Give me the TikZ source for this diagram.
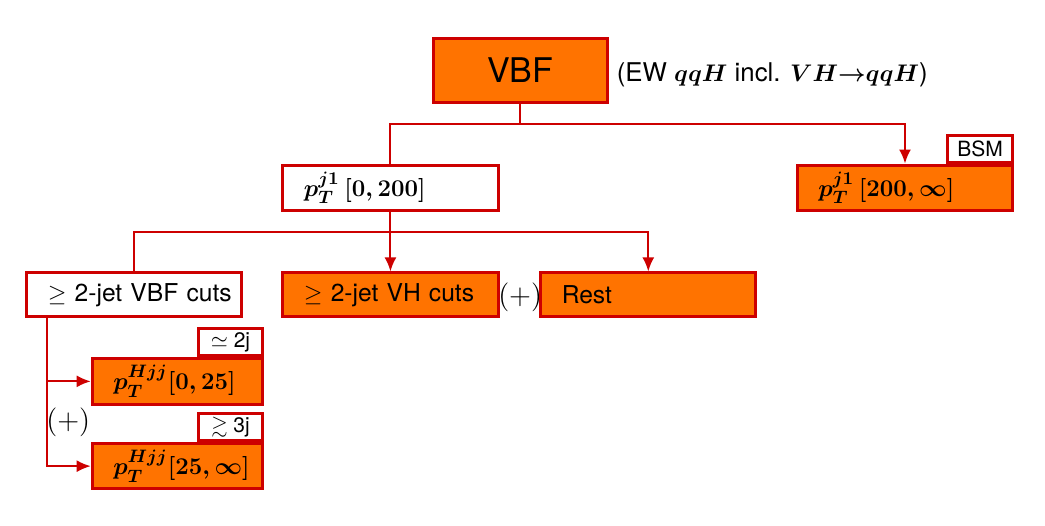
\documentclass[tikz,border=0pt]{standalone}
\usepackage{amsmath}
\usepackage{amssymb}
\usepackage[no-math]{fontspec}
\setmainfont{TeX Gyre Heros}
\usetikzlibrary{arrows.meta, positioning}
\definecolor{boxred}{RGB}{205,0,0}
\definecolor{boxorange}{RGB}{255,115,0}

\begin{document}
\begin{tikzpicture}[
    box/.style={draw=boxred, line width=1.5pt, fill=boxorange, minimum height=0.77cm,
        inner xsep=0.1cm, text width=3.58cm, align=left, font=\fontsize{12.3}{14}\selectfont,
        execute at begin node=\hspace*{0.27cm}},
    openbox/.style={box, fill=white},
    smallbox/.style={box, text width=2.8cm},
    headbox/.style={draw=boxred, line width=1.5pt, fill=boxorange, minimum width=3.06cm,
        minimum height=1.11cm, font=\fontsize{17}{19}\selectfont},
    tag/.style={draw=boxred, line width=1.5pt, fill=white, minimum width=1.14cm,
        minimum height=0.47cm, inner sep=1pt, anchor=south east, font=\fontsize{10.5}{12}\selectfont},
    link/.style={draw=boxred, line width=1pt},
    >={Latex[length=7pt, width=6pt]}
]
    \useasboundingbox (0,0) rectangle (18.36,-9.24);

    \node[headbox](vbf)                 at (9.14,-1.24) {VBF};
    \node[anchor=west, inner xsep=0pt, font=\fontsize{12.9}{15}\selectfont](note)
                                        at (10.83,-1.32)
        {(EW $\boldsymbol{qqH}$ incl. $\boldsymbol{VH{\rightarrow}qqH}$)};
    \node[openbox](pt_low)              at (6.86,-3.30) {$\boldsymbol{p_T^{j1}\,[0,200]}$};
    \node[box](pt_high)                 at (15.90,-3.30) {$\boldsymbol{p_T^{j1}\,[200,\infty]}$};
    \node[tag](bsm)                     at (pt_high.north east) {BSM};
    \node[openbox](vbf_cuts)            at (2.36,-5.18) {$\geq$ 2-jet VBF cuts};
    \node[box](vh_cuts)                 at (6.86,-5.18) {$\geq$ 2-jet VH cuts};
    \node[font=\fontsize{14}{16}\selectfont](plus_mid)
                                        at (9.14,-5.22) {$(+)$};
    \node[box](rest)                    at (11.39,-5.18) {Rest};
    \node[smallbox](hjj_low)            at (3.12,-6.70) {$\boldsymbol{p_T^{Hjj}[0,25]}$};
    \node[tag](two_j)                   at (hjj_low.north east) {$\simeq$ 2j};
    \node[smallbox](hjj_high)           at (3.12,-8.19) {$\boldsymbol{p_T^{Hjj}[25,\infty]}$};
    \node[tag](three_j)                 at (hjj_high.north east) {$\gtrsim$ 3j};
    \node[font=\fontsize{14}{16}\selectfont](plus_left)
                                        at (1.20,-7.42) {$(+)$};

    \coordinate (split_top)             at (9.14,-2.18);
    \coordinate (split_mid)             at (6.86,-4.08);
    \coordinate (trunk)                 at ([xshift=0.39cm]vbf_cuts.south west);

    % first split below VBF
    \draw[link] (vbf.south) -- (split_top);
    \draw[link] (split_top) -| (pt_low.north);
    \draw[link, ->] (split_top) -| (pt_high.north);
    % second split below pT [0,200]
    \draw[link, ->] (pt_low.south) -- (vh_cuts.north);
    \draw[link] (split_mid) -| (vbf_cuts.north);
    \draw[link, ->] (split_mid) -| (rest.north);
    % VBF cuts into pT^Hjj bins
    \draw[link, ->] (trunk) |- (hjj_low.west);
    \draw[link, ->] (trunk) |- (hjj_high.west);
\end{tikzpicture}
\end{document}
